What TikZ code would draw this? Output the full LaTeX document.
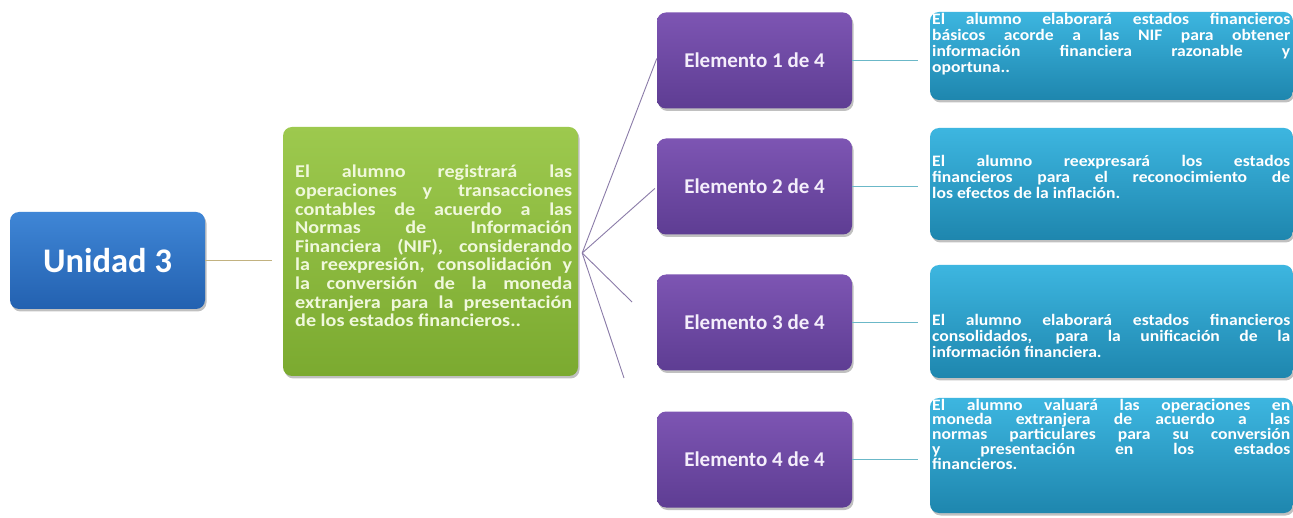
\documentclass[tikz,border=0pt]{standalone}
\usepackage{fontspec}
\setmainfont{Carlito}
\newfontfamily\tealfont[FakeStretch=1.1]{Carlito}
\newfontfamily\grnfont[FakeStretch=1.12]{Carlito}
\usetikzlibrary{shadows}
\definecolor{blueT}{HTML}{3F86D6}
\definecolor{blueB}{HTML}{2361B0}
\definecolor{grnT}{HTML}{9DC94E}
\definecolor{grnB}{HTML}{7BAA30}
\definecolor{purT}{HTML}{7D55B3}
\definecolor{purB}{HTML}{5E3D93}
\definecolor{tealT}{HTML}{3DB6E0}
\definecolor{tealB}{HTML}{1E86AE}
\definecolor{tanline}{HTML}{C2B280}
\definecolor{purline}{HTML}{8A7BA8}
\definecolor{tealline}{HTML}{6BB8C8}
\definecolor{grntext}{HTML}{F0F8DC}
\definecolor{purtext}{HTML}{F4EEFB}
\tolerance=10000
\hbadness=10000
\newcommand\jpar[2]{\parbox[t]{#1}{\rightskip=0pt\relax\leftskip=0pt\relax\spaceskip=0pt\relax\xspaceskip=0pt\relax\parindent=0pt\relax\tolerance=10000\relax #2}}
\tikzset{
  boxbase/.style={rounded corners=9pt, inner sep=0pt,
    drop shadow={shadow xshift=1.5pt, shadow yshift=-2.5pt, opacity=0.35, fill=black!70}},
  bluebox/.style={boxbase, top color=blueT, bottom color=blueB,
    minimum width=195pt, minimum height=97pt, text=white,
    font=\bfseries\fontsize{34.5}{38}\selectfont},
  grnbox/.style={boxbase, top color=grnT, bottom color=grnB,
    minimum width=295pt, minimum height=249pt},
  purbox/.style={boxbase, top color=purT, bottom color=purB,
    minimum width=195pt, minimum height=96pt, text=purtext,
    font=\bfseries\fontsize{21}{23}\selectfont},
  tealbox/.style={boxbase, top color=tealT, bottom color=tealB,
    minimum width=363pt},
  grntxt/.style={anchor=base west, inner sep=0pt,
    text=grntext, font=\grnfont\bfseries\fontsize{18}{18.6}\selectfont},
  tealtxt/.style={anchor=base west, inner sep=0pt,
    text=white, font=\tealfont\bfseries\fontsize{16}{15.9}\selectfont},
  tanconn/.style={draw=tanline, line width=0.9pt},
  purconn/.style={draw=purline, line width=0.9pt},
  tealconn/.style={draw=tealline, line width=0.9pt},
}
\begin{document}
\begin{tikzpicture}[x=1pt,y=-1pt]
\useasboundingbox (0,0) rectangle (1293,518);
\fill[white] (0,0) rectangle (1293,518);

% main boxes
\node[bluebox] (u) at (107.5,260.5) {Unidad 3};
\node[grnbox] (g) at (430.5,251.5) {};
\node[purbox] (p1) at (754.5,60.5) {Elemento 1 de 4};
\node[purbox] (p2) at (754.5,186.5) {Elemento 2 de 4};
\node[purbox] (p3) at (754.5,322.5) {Elemento 3 de 4};
\node[purbox] (p4) at (754.5,459.5) {Elemento 4 de 4};
\node[tealbox, minimum height=88pt] (t1) at (1111.5,56) {};
\node[tealbox, minimum height=112pt] (t2) at (1111.5,184) {};
\node[tealbox, minimum height=113pt] (t3) at (1111.5,321.5) {};
\node[tealbox, minimum height=115pt] (t4) at (1111.5,455.5) {};

% texts
\node[grntxt] (gt) at (295,178) {\jpar{277pt}{El alumno registrará las\linebreak
operaciones y transacciones\linebreak
contables de acuerdo a las\linebreak
Normas de Información\linebreak
Financiera (NIF), considerando\linebreak
la reexpresión, consolidación y\linebreak
la conversión de la moneda\linebreak
extranjera para la presentación\linebreak
de los estados financieros..}};

\node[tealtxt] (tt1) at (932,25) {\jpar{358pt}{El alumno elaborará estados financieros\linebreak
básicos acorde a las NIF para obtener\linebreak
información financiera razonable y\linebreak
oportuna..}};
\node[tealtxt] (tt2) at (932,167) {\jpar{358pt}{El alumno reexpresará los estados\linebreak
financieros para el reconocimiento de\linebreak
los efectos de la inflación.}};
\node[tealtxt] (tt3) at (932,326) {\jpar{358pt}{El alumno elaborará estados financieros\linebreak
consolidados, para la unificación de la\linebreak
información financiera.}};
\node[tealtxt, font=\tealfont\bfseries\fontsize{16}{13.4}\selectfont] (tt4) at (932,410) {\jpar{358pt}{El alumno valuará las operaciones en\linebreak
moneda extranjera de acuerdo a las\linebreak
normas particulares para su conversión\linebreak
y presentación en los estados\linebreak
financieros.}};

% connectors
\draw[tanconn, shorten >=11pt] (u.east) -- (u.east -| g.west);
\coordinate (hub) at ([xshift=4pt,yshift=-1.5pt]g.east);
\coordinate (f3) at (632,302);
\coordinate (f4) at (624,378);
\draw[purconn] (hub) -- ([yshift=2pt]p1.west);
\draw[purconn] (hub) -- ([xshift=-2pt,yshift=-2pt]p2.west);
\draw[purconn] (hub) -- (f3);
\draw[purconn] (hub) -- (f4);
\draw[tealconn, shorten >=12pt] (p1.east) -- (p1.east -| t1.west);
\draw[tealconn, shorten >=12pt] (p2.east) -- (p2.east -| t2.west);
\draw[tealconn, shorten >=12pt] (p3.east) -- (p3.east -| t3.west);
\draw[tealconn, shorten >=12pt] (p4.east) -- (p4.east -| t4.west);
\end{tikzpicture}
\end{document}
